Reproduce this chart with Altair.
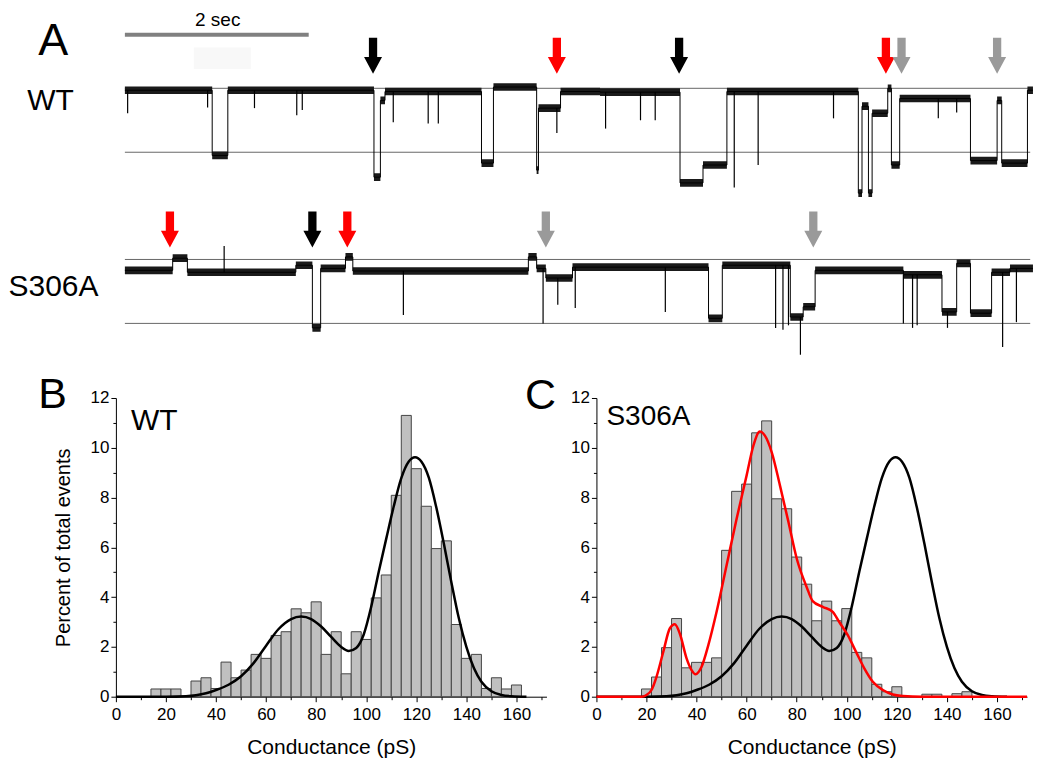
import altair as alt
import pandas as pd

FONT = "Liberation Sans"

# ---------------- Panel A: current traces ----------------
# time (s) of each level change, level relative to the upper line (0) / lower line (-1)
wt_t = [0.00, 0.95, 1.12, 2.71, 2.78, 2.83, 3.88, 4.01, 4.48, 4.50, 4.74, 5.17, 6.04, 6.29,
        6.55, 7.98, 8.02, 8.09, 8.13, 8.30, 8.34, 8.43, 9.20, 9.49, 9.54, 9.82, 9.88]
wt_level = [-0.03, -1.05, -0.03, -1.39, -0.19, -0.05, -1.17, 0.02, -1.28, -0.31, -0.05, -0.06,
            -1.48, -1.20, -0.05, -1.64, -0.28, -1.64, -0.39, 0.00, -1.20, -0.16, -1.13, -0.19,
            -1.17, -0.03, -0.03]
wt_spike_t = [0.03, 0.90, 1.41, 1.87, 1.93, 2.92, 3.30, 3.41, 4.70, 5.23, 5.61, 5.77, 6.63,
              6.89, 7.71, 8.85, 9.05]
wt_spike_level = [-0.39, -0.30, -0.31, -0.42, -0.34, -0.53, -0.55, -0.55, -0.70, -0.63, -0.50,
                  -0.50, -1.55, -1.20, -0.47, -0.47, -0.38]

s_t = [0.00, 0.52, 0.68, 1.86, 2.04, 2.13, 2.40, 2.48, 4.39, 4.48, 4.58, 4.87, 6.35, 6.50,
       7.24, 7.38, 7.51, 8.47, 8.89, 9.05, 9.20, 9.43, 9.63, 9.88]
s_level = [-0.17, 0.02, -0.20, -0.09, -1.07, -0.14, 0.04, -0.18, 0.04, -0.14, -0.29, -0.12,
           -0.92, -0.09, -0.90, -0.74, -0.17, -0.24, -0.82, -0.06, -0.84, -0.20, -0.14, -0.14]
s_spike_t = [1.08, 3.03, 4.55, 4.71, 4.90, 5.88, 7.08, 7.16, 7.22, 7.35, 8.47, 8.57, 8.62,
             8.95, 9.55, 9.70]
s_spike_level = [0.21, -0.87, -1.00, -0.71, -0.76, -0.82, -1.07, -1.10, -1.03, -1.49, -1.00,
                 -1.07, -1.03, -1.07, -1.37, -0.98]

row_offset = {"WT": 0.0, "S306A": -2.677}

arrow_row = ["WT"] * 6 + ["S306A"] * 5
arrow_t = [2.70, 4.70, 6.03, 8.28, 8.45, 9.49, 0.49, 2.04, 2.42, 4.58, 7.49]
arrow_color = ["#000000", "#ff0000", "#000000", "#ff0000", "#9a9a9a", "#9a9a9a",
               "#ff0000", "#000000", "#ff0000", "#9a9a9a", "#9a9a9a"]
arrow_level = {"WT": 0.51, "S306A": 0.47}

# ---------------- Panels B / C: histograms ----------------
wt_centers = list(range(16, 161, 4))
wt_pct = [0.31, 0.31, 0.31, 0, 0.63, 0.76, 0.33, 1.39, 0.76, 1.07,
          1.70, 1.54, 2.46, 2.61, 3.53, 3.37, 3.81, 1.70, 2.61, 0.92,
          2.61, 2.30, 3.97, 4.89, 8.09, 11.30, 9.16, 7.65, 5.95, 6.26,
          2.90, 1.54, 1.70, 0.33, 0.76, 0.31, 0.47]
s_centers = list(range(20, 149, 4))
s_pct = [0.31, 0.79, 1.97, 3.14, 1.16, 1.38, 1.38, 1.56, 5.88, 8.25,
         8.54, 10.60, 11.08, 7.95, 7.55, 5.61, 4.52, 3.05, 3.84, 3.05,
         3.54, 1.78, 1.56, 0.50, 0.20, 0.40, 0, 0, 0.10, 0.10,
         0, 0.12, 0.20]
wt_fit_x = [0, 20, 28, 32, 36, 40, 45, 50, 55, 60, 65, 70, 74, 78, 82, 86, 90, 93, 96, 99,
            102, 105, 108, 111, 114, 117, 119.5, 122, 125, 128, 131, 134, 137, 140, 143, 146,
            150, 154, 158, 164]
wt_fit_y = [0, 0, 0.02, 0.06, 0.14, 0.27, 0.48, 0.82, 1.35, 2.05, 2.72, 3.12, 3.22, 3.12,
            2.82, 2.4, 2.0, 1.84, 1.96, 2.5, 3.62, 5.02, 6.35, 7.65, 8.78, 9.45, 9.62, 9.45,
            8.8, 7.6, 6.15, 4.6, 3.15, 2.0, 1.15, 0.6, 0.22, 0.07, 0.02, 0]
s_fit_x = [0, 18, 20, 22, 24, 26.7, 29.3, 31.3, 33.3, 36, 38, 39.6, 42, 44.7, 48, 52, 56, 60,
           62.7, 65.3, 67.3, 70, 73.3, 76.7, 80, 84, 86.4, 90.4, 94.4, 97, 100.4, 103.7, 107,
           110.4, 114.4, 118.4, 122.4, 130, 172]
s_fit_y = [0, 0, 0.07, 0.27, 0.8, 1.8, 2.74, 2.91, 2.54, 1.54, 1.07, 0.9, 1.2, 2.07, 3.41,
           5.28, 7.15, 8.89, 10.09, 10.65, 10.49, 9.83, 8.49, 7.02, 5.55, 4.4, 3.84, 3.61,
           3.41, 3.0, 2.47, 1.8, 1.14, 0.6, 0.27, 0.09, 0.03, 0, 0]

# ======================= build panel A =======================
def step_frame(row, ts, lv):
    off = row_offset[row]
    return pd.DataFrame({"row": row, "t": ts, "y": [v + off for v in lv]})

traces = pd.concat([step_frame("WT", wt_t, wt_level), step_frame("S306A", s_t, s_level)],
                   ignore_index=True)
traces["hi"] = traces["y"] + 0.06
traces["lo"] = traces["y"] - 0.06

def spike_frame(row, ts, lv, sts, slv):
    off = row_offset[row]
    base = []
    for st in sts:
        idx = max(i for i, t in enumerate(ts) if t <= st)
        base.append(lv[idx] + off)
    return pd.DataFrame({"t": sts, "y": base, "y2": [v + off for v in slv]})

spikes = pd.concat([spike_frame("WT", wt_t, wt_level, wt_spike_t, wt_spike_level),
                    spike_frame("S306A", s_t, s_level, s_spike_t, s_spike_level)],
                   ignore_index=True)

reflines = pd.DataFrame({"t": [0.0] * 4, "t2": [9.85] * 4,
                         "y": [0.0, -1.0, row_offset["S306A"], row_offset["S306A"] - 1.0]})
arrows = pd.DataFrame({"t": arrow_t, "col": arrow_color,
                       "y": [arrow_level[r] + row_offset[r] for r in arrow_row]})
scalebar = pd.DataFrame({"t": [0.0], "t2": [2.0], "y": [0.839]})
faint = pd.DataFrame({"t": [0.75], "t2": [1.37], "y": [0.64], "y2": [0.30]})
sec_lbl = pd.DataFrame({"t": [1.01], "y": [0.969], "text": ["2 sec"]})
big_lbl = pd.DataFrame({"t": [-0.78], "y": [0.516], "text": ["A"]})
row_lbl = pd.DataFrame({"t": [-0.81, -0.777], "y": [-0.344, -3.25], "text": ["WT", "S306A"]})

xa = alt.Scale(domain=[-0.0978, 9.924], nice=False, zero=False)
ya = alt.Scale(domain=[-4.281, 1.219], nice=False, zero=False)

def XA(f):
    return alt.X(f + ":Q", scale=xa, axis=None)

def YA(f):
    return alt.Y(f + ":Q", scale=ya, axis=None)

ARROW = "M-0.46,-2L0.46,-2L0.46,0.15L1,0.15L0,2L-1,0.15L-0.46,0.15Z"

a_layers = [
    alt.Chart(faint).mark_rect(color="#f8f8f8").encode(
        x=XA("t"), x2=alt.X2("t2:Q"), y=YA("y"), y2=alt.Y2("y2:Q")),
    alt.Chart(scalebar).mark_rule(color="#808080", strokeWidth=4).encode(
        x=XA("t"), x2=alt.X2("t2:Q"), y=YA("y")),
    alt.Chart(sec_lbl).mark_text(font=FONT, fontSize=19, baseline="alphabetic",
                                 align="center", color="black").encode(
        x=XA("t"), y=YA("y"), text="text:N"),
    alt.Chart(reflines).mark_rule(color="#666666", strokeWidth=1).encode(
        x=XA("t"), x2=alt.X2("t2:Q"), y=YA("y")),
    alt.Chart(traces).mark_area(interpolate="step-after", color="#1a1a1a").encode(
        x=XA("t"), y=YA("hi"), y2=alt.Y2("lo:Q"), detail="row:N"),
    alt.Chart(traces).mark_line(interpolate="step-after", color="#000000", strokeWidth=1).encode(
        x=XA("t"), y=YA("y"), detail="row:N"),
    alt.Chart(spikes).mark_rule(color="#000000", strokeWidth=1.2).encode(
        x=XA("t"), y=YA("y"), y2=alt.Y2("y2:Q")),
    alt.Chart(arrows).mark_point(shape=ARROW, filled=True, size=324, opacity=1).encode(
        x=XA("t"), y=YA("y"), color=alt.Color("col:N", scale=None)),
    alt.Chart(big_lbl).mark_text(font=FONT, fontSize=45, baseline="alphabetic",
                                 align="center", color="black").encode(
        x=XA("t"), y=YA("y"), text="text:N"),
    alt.Chart(row_lbl).mark_text(font=FONT, fontSize=30, baseline="alphabetic",
                                 align="center", color="black").encode(
        x=XA("t"), y=YA("y"), text="text:N"),
]
top = alt.layer(*a_layers).properties(width=922, height=352)

# ======================= build panels B and C =======================
xs = alt.Scale(domain=[0, 172], nice=False, zero=False)
ys = alt.Scale(domain=[0, 12], nice=False, zero=False)

x_axis = alt.Axis(values=list(range(0, 171, 10)),
                  labelExpr="datum.value % 20 === 0 ? datum.label : ''",
                  tickSize={"condition": {"test": "datum.value % 20 === 0", "value": 5}, "value": 3},
                  title="Conductance (pS)", labelPadding=5, titlePadding=14,
                  titleFontSize=21, labelFlush=False, labelOverlap=False)

def y_axis(title):
    return alt.Axis(values=list(range(0, 13)),
                    labelExpr="datum.value % 2 === 0 ? datum.label : ''",
                    tickSize={"condition": {"test": "datum.value % 2 === 0", "value": 5}, "value": 3},
                    title=title, labelPadding=2, titlePadding=17, titleFontSize=20,
                    labelOverlap=False)

def hist_panel(centers, pct, curves, panel_lbl, letter):
    yax = y_axis(panel_lbl[3])
    X = alt.X("x:Q", scale=xs, axis=x_axis)
    Y = alt.Y("y:Q", scale=ys, axis=yax)
    bars = pd.DataFrame({"x": [c - 2 for c in centers], "x2": [c + 2 for c in centers],
                         "y": pct, "y0": [0.0] * len(centers)})
    bars = bars[bars["y"] > 0]
    layers = [alt.Chart(bars).mark_bar(fill="#c0c0c0", stroke="#444444", strokeWidth=1).encode(
        x=X, x2=alt.X2("x2:Q"), y=Y, y2=alt.Y2("y0:Q"))]
    for cx, cy, col in curves:
        layers.append(alt.Chart(pd.DataFrame({"x": cx, "y": cy})).mark_line(
            color=col, strokeWidth=2.5, interpolate="monotone").encode(x=X, y=Y))
    layers.append(alt.Chart(pd.DataFrame({"x": [panel_lbl[0]], "y": [panel_lbl[1]], "text": [panel_lbl[2]]}))
                  .mark_text(font=FONT, fontSize=panel_lbl[4], align="left", baseline="alphabetic",
                             color="black").encode(x=X, y=Y, text="text:N"))
    layers.append(alt.Chart(pd.DataFrame({"x": [letter[0]], "y": [letter[1]], "text": [letter[2]]}))
                  .mark_text(font=FONT, fontSize=43, align="center", baseline="alphabetic",
                             color="black").encode(x=X, y=Y, text="text:N"))
    return alt.layer(*layers).properties(width=431, height=299)

panel_b = hist_panel(wt_centers, wt_pct, [(wt_fit_x, wt_fit_y, "#000000")],
                     (6.0, 10.73, "WT", "Percent of total events", 30), (-25.3, 11.61, "B"))
panel_c = hist_panel(s_centers, s_pct, [(wt_fit_x, wt_fit_y, "#000000"), (s_fit_x, s_fit_y, "#ff0000")],
                     (4.0, 10.93, "S306A", "", 28), (-22.35, 11.57, "C"))

bottom = alt.hconcat(panel_b, panel_c, spacing=50, bounds="flush")

chart = alt.vconcat(top, bottom, spacing=36, bounds="flush").properties(
    padding={"left": 0, "top": 2, "right": 5, "bottom": 5}
).configure(font=FONT).configure_view(stroke=None).configure_axis(
    labelFont=FONT, titleFont=FONT, labelFontSize=17,
    titleFontWeight="normal", labelColor="black", titleColor="black",
    domainColor="black", tickColor="black", grid=False, domainWidth=1, tickWidth=1
)

chart.save("out.html", embed_options={"renderer": "svg", "actions": False})
